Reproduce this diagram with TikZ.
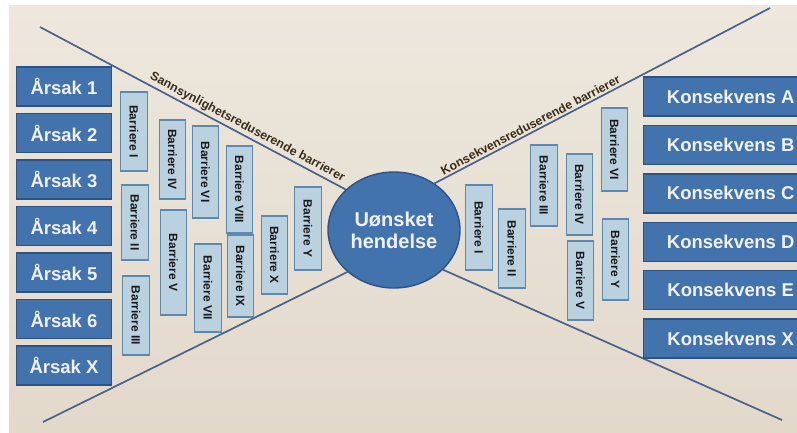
\documentclass[tikz,border=0pt]{standalone}
\usepackage{fontspec}
\setmainfont{Liberation Sans}
\usetikzlibrary{shapes.geometric}
\definecolor{papertop}{HTML}{EDE7DD}
\definecolor{paperbot}{HTML}{E2D9CB}
\definecolor{blockfill}{HTML}{4273AC}
\definecolor{blockedge}{HTML}{2D5285}
\definecolor{barfill}{HTML}{BAD1E0}
\definecolor{baredge}{HTML}{5F88AE}
\definecolor{axisline}{HTML}{4A6288}
\definecolor{labelink}{HTML}{3A2D1A}
\begin{document}
\begin{tikzpicture}[x=1pt,y=-1pt,
  block/.style={draw=blockedge, line width=1.4pt, fill=blockfill, text=white!94!blue,
    font=\fontsize{18.5}{22}\selectfont\bfseries, minimum height=39, inner sep=0pt},
  cause/.style={block, minimum width=95.5},
  effect/.style={block, minimum width=162, anchor=west},
  barrier/.style={draw=baredge, line width=1.1pt, fill=barfill, text=black!90,
    font=\fontsize{12}{13}\selectfont\bfseries, rotate=-90,
    minimum height=26.5, inner sep=0pt},
  axis/.style={draw=axisline, line width=1.7pt},
  axislabel/.style={sloped, above, inner sep=2pt, text=labelink,
    font=\fontsize{12.3}{14}\selectfont\bfseries},
]
\useasboundingbox (0,0) rectangle (797,432);
\fill[white] (0,0) rectangle (797,432);
\fill[top color=papertop, bottom color=paperbot] (9,5) rectangle (797,432);

\begin{scope}
\clip (0,0) rectangle (797,432);

% central event
\node[ellipse, draw=blockedge, line width=1.4pt, fill=blockfill, text=white!94!blue,
  minimum width=132, minimum height=116, inner sep=0pt, align=center,
  font=\fontsize{20}{22}\selectfont\bfseries] (ev) at (394,230) {Uønsket\\hendelse};

% outer ends of the bow-tie lines
\coordinate (ltop) at (40,27);
\coordinate (lbot) at (43,422);
\coordinate (rtop) at (770,8);
\coordinate (rbot) at (782,420);

\draw[axis] (ltop) -- (ev.140)
  node[axislabel, pos=0.665] {Sannsynlighetsreduserende barrierer};
\draw[axis] (lbot) -- (ev.222);
\draw[axis] (ev.49) -- (rtop)
  node[axislabel, pos=0.296] {Konsekvensreduserende barrierer};
\draw[axis] (ev.321) -- (rbot);

% causes
\node[cause] (c1) at (64,86.5) {Årsak 1};
\node[cause] (c2) at (64,133) {Årsak 2};
\node[cause] (c3) at (64,179.5) {Årsak 3};
\node[cause] (c4) at (64,226) {Årsak 4};
\node[cause] (c5) at (64,272.5) {Årsak 5};
\node[cause] (c6) at (64,319) {Årsak 6};
\node[cause] (cx) at (64,365.5) {Årsak X};

% consequences
\node[effect] (kA) at (643,96.5) {\hspace{12pt}Konsekvens A\hfill};
\node[effect] (kB) at (643,144.9) {\hspace{12pt}Konsekvens B\hfill};
\node[effect] (kC) at (643,193.3) {\hspace{12pt}Konsekvens C\hfill};
\node[effect] (kD) at (643,241.7) {\hspace{12pt}Konsekvens D\hfill};
\node[effect] (kE) at (643,290.1) {\hspace{12pt}Konsekvens E\hfill};
\node[effect] (kX) at (643,338.5) {\hspace{12pt}Konsekvens X\hfill};

% probability-reducing barriers
\node[barrier, minimum width=79] (pI) at (134,131.5) {Barriere I};
\node[barrier, minimum width=75] (pII) at (135,222.5) {Barriere II};
\node[barrier, minimum width=79] (pIII) at (136,315.5) {Barriere III};
\node[barrier, minimum width=79] (pIV) at (172.5,159.5) {Barriere IV};
\node[barrier, minimum width=105] (pV) at (173.5,262.5) {Barriere V};
\node[barrier, minimum width=92] (pVI) at (205.5,172) {Barriere VI};
\node[barrier, minimum width=88] (pVII) at (208,288) {Barriere VII};
\node[barrier, minimum width=87] (pVIII) at (239.5,189.5) {Barriere VIII};
\node[barrier, minimum width=82] (pIX) at (240.5,276) {Barriere IX};
\node[barrier, minimum width=78] (pX) at (274.5,255) {Barriere X};
\node[barrier, minimum width=83] (pY) at (308,228.5) {Barriere Y};

% consequence-reducing barriers
\node[barrier, minimum width=85] (qI) at (479,227.5) {Barriere I};
\node[barrier, minimum width=79] (qII) at (512,248.5) {Barriere II};
\node[barrier, minimum width=81] (qIII) at (544,185.5) {Barriere III};
\node[barrier, minimum width=81] (qIV) at (579.5,194.5) {Barriere IV};
\node[barrier, minimum width=79] (qV) at (580.5,280.5) {Barriere V};
\node[barrier, minimum width=83] (qVI) at (614.5,149.5) {Barriere VI};
\node[barrier, minimum width=81] (qY) at (615.5,259.5) {Barriere Y};
\end{scope}
\end{tikzpicture}
\end{document}
